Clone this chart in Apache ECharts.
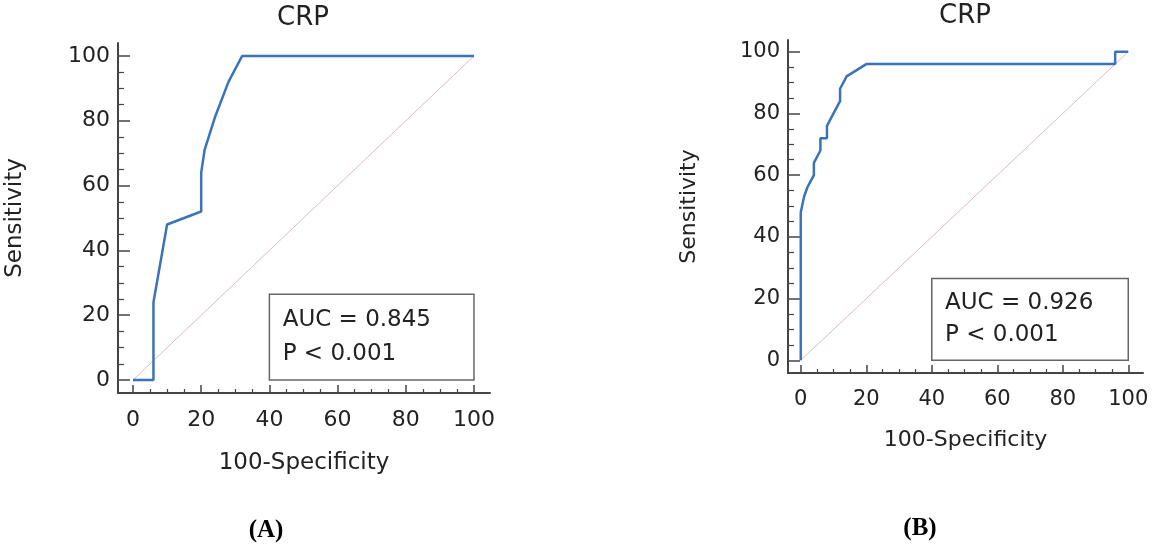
<!DOCTYPE html>
<html>
<head>
<meta charset="utf-8">
<script src="https://cdn.jsdelivr.net/npm/echarts@6/dist/echarts.min.js"></script>
<style>
  html, body { margin: 0; padding: 0; background: #fff; }
  #main { width: 1152px; height: 544px; }
</style>
</head>
<body>
<div id="main"></div>
<script>
// ROC points: 100-specificity (x) and sensitivity (y)
var rocAx = [0, 6, 6, 10, 20, 20, 21, 24, 28, 32, 100];
var rocAy = [0, 0, 24, 48, 52, 64, 71, 81, 92, 100, 100];
var rocBx = [0, 0, 1, 2, 4, 4, 6, 6, 8, 8, 10, 12, 12, 14, 20, 96, 96, 100];
var rocBy = [0, 48, 53, 56, 60, 64, 68, 72, 72, 76, 80, 84, 88, 92, 96, 96, 100, 100];
var diagX = [0, 100];
var diagY = [0, 100];
var majorTicks = [0, 20, 40, 60, 80, 100];
var minorTicks = [5, 10, 15, 25, 30, 35, 45, 50, 55, 65, 70, 75, 85, 90, 95];
var aucA = 'AUC = 0.845';
var aucB = 'AUC = 0.926';
var pText = 'P < 0.001';

var FONT = 'DejaVu Sans';
var AXIS_COLOR = '#444';
var TEXT_COLOR = '#222';

function pairs(xs, ys) {
    return xs.map(function (x, i) { return [x, ys[i]]; });
}

// overlay axis that only draws ticks at the given values
function tickAxis(g, min, max, pos, values, len, w) {
    return {
        gridIndex: g, type: 'value', min: min, max: max, position: pos,
        axisLine: { show: false, onZero: false },
        axisTick: { show: true, inside: true, length: len, customValues: values, lineStyle: { color: AXIS_COLOR, width: w } },
        axisLabel: { show: false },
        splitLine: { show: false }
    };
}

function xAxes(g, min, max, fs, gap) {
    return [{
        gridIndex: g, type: 'value', min: min, max: max, position: 'bottom',
        axisLine: { show: true, onZero: false, lineStyle: { color: AXIS_COLOR, width: 2 } },
        axisTick: { show: false },
        axisLabel: { customValues: majorTicks, margin: 16, color: TEXT_COLOR, fontSize: fs, fontFamily: FONT },
        splitLine: { show: false },
        name: '100-Specificity', nameLocation: 'middle', nameGap: gap,
        nameTextStyle: { color: TEXT_COLOR, fontSize: fs + 1, fontFamily: FONT }
    },
    tickAxis(g, min, max, 'bottom', majorTicks, 8, 1.5),
    tickAxis(g, min, max, 'bottom', minorTicks, 4, 1.2)];
}

function yAxes(g, min, max, fs, gap) {
    return [{
        gridIndex: g, type: 'value', min: min, max: max, position: 'left',
        axisLine: { show: true, onZero: false, lineStyle: { color: AXIS_COLOR, width: 2 } },
        axisTick: { show: false },
        axisLabel: { customValues: majorTicks, margin: 8, color: TEXT_COLOR, fontSize: fs, fontFamily: FONT },
        splitLine: { show: false },
        name: 'Sensitivity', nameLocation: 'middle', nameGap: gap,
        nameTextStyle: { color: TEXT_COLOR, fontSize: fs + 1, fontFamily: FONT }
    },
    tickAxis(g, min, max, 'left', majorTicks, 12, 1.5),
    tickAxis(g, min, max, 'left', minorTicks, 6, 1.2)];
}

function aucBox(text, lh) {
    return {
        silent: true,
        itemStyle: { color: 'rgba(0,0,0,0)', borderColor: '#666', borderWidth: 1.5 },
        label: {
            show: true, position: 'insideLeft', distance: 14,
            formatter: text + '\n' + pText,
            color: TEXT_COLOR, fontSize: 23, fontFamily: FONT, lineHeight: lh, align: 'left'
        },
        data: [[{ coord: [40, 0] }, { coord: [100, 26.5] }]]
    };
}

var myChart = echarts.init(document.getElementById('main'));
var option = {
    animation: false,
    backgroundColor: '#fff',
    grid: [
        { left: 118, right: 662, top: 43, bottom: 151, outerBoundsMode: 'none', containLabel: false },
        { left: 788, right: 9, top: 40, bottom: 171, outerBoundsMode: 'none', containLabel: false }
    ],
    xAxis: xAxes(0, -4.4, 104.7, 22, 59).concat(xAxes(1, -3.9, 104.5, 21, 56)),
    yAxis: yAxes(0, -4.0, 104.0, 22, 91).concat(yAxes(1, -4.1, 103.8, 21, 88)),
    graphic: [
        { type: 'text', x: 303, y: 18, style: { text: 'CRP', fill: TEXT_COLOR, fontSize: 26, fontFamily: FONT, align: 'center', verticalAlign: 'middle' } },
        { type: 'text', x: 965, y: 16, style: { text: 'CRP', fill: TEXT_COLOR, fontSize: 26, fontFamily: FONT, align: 'center', verticalAlign: 'middle' } },
        { type: 'text', x: 266, y: 531, style: { text: '(A)', fill: '#000', fontSize: 25, fontWeight: 'bold', fontFamily: 'Liberation Serif', align: 'center', verticalAlign: 'middle' } },
        { type: 'text', x: 920, y: 529, style: { text: '(B)', fill: '#000', fontSize: 25, fontWeight: 'bold', fontFamily: 'Liberation Serif', align: 'center', verticalAlign: 'middle' } }
    ],
    series: [
        {
            name: 'diagA', type: 'line', xAxisIndex: 0, yAxisIndex: 0,
            data: pairs(diagX, diagY), symbol: 'none',
            lineStyle: { color: '#dfbcbc', width: 1 },
            markArea: aucBox(aucA, 34)
        },
        {
            name: 'rocA', type: 'line', xAxisIndex: 0, yAxisIndex: 0,
            data: pairs(rocAx, rocAy), symbol: 'none',
            lineStyle: { color: '#3a73b8', width: 2.5 }
        },
        {
            name: 'diagB', type: 'line', xAxisIndex: 3, yAxisIndex: 3,
            data: pairs(diagX, diagY), symbol: 'none',
            lineStyle: { color: '#dfbcbc', width: 1 },
            markArea: aucBox(aucB, 32)
        },
        {
            name: 'rocB', type: 'line', xAxisIndex: 3, yAxisIndex: 3,
            data: pairs(rocBx, rocBy), symbol: 'none',
            lineStyle: { color: '#3a73b8', width: 2.5 }
        }
    ]
};
myChart.setOption(option);
</script>
</body>
</html>
